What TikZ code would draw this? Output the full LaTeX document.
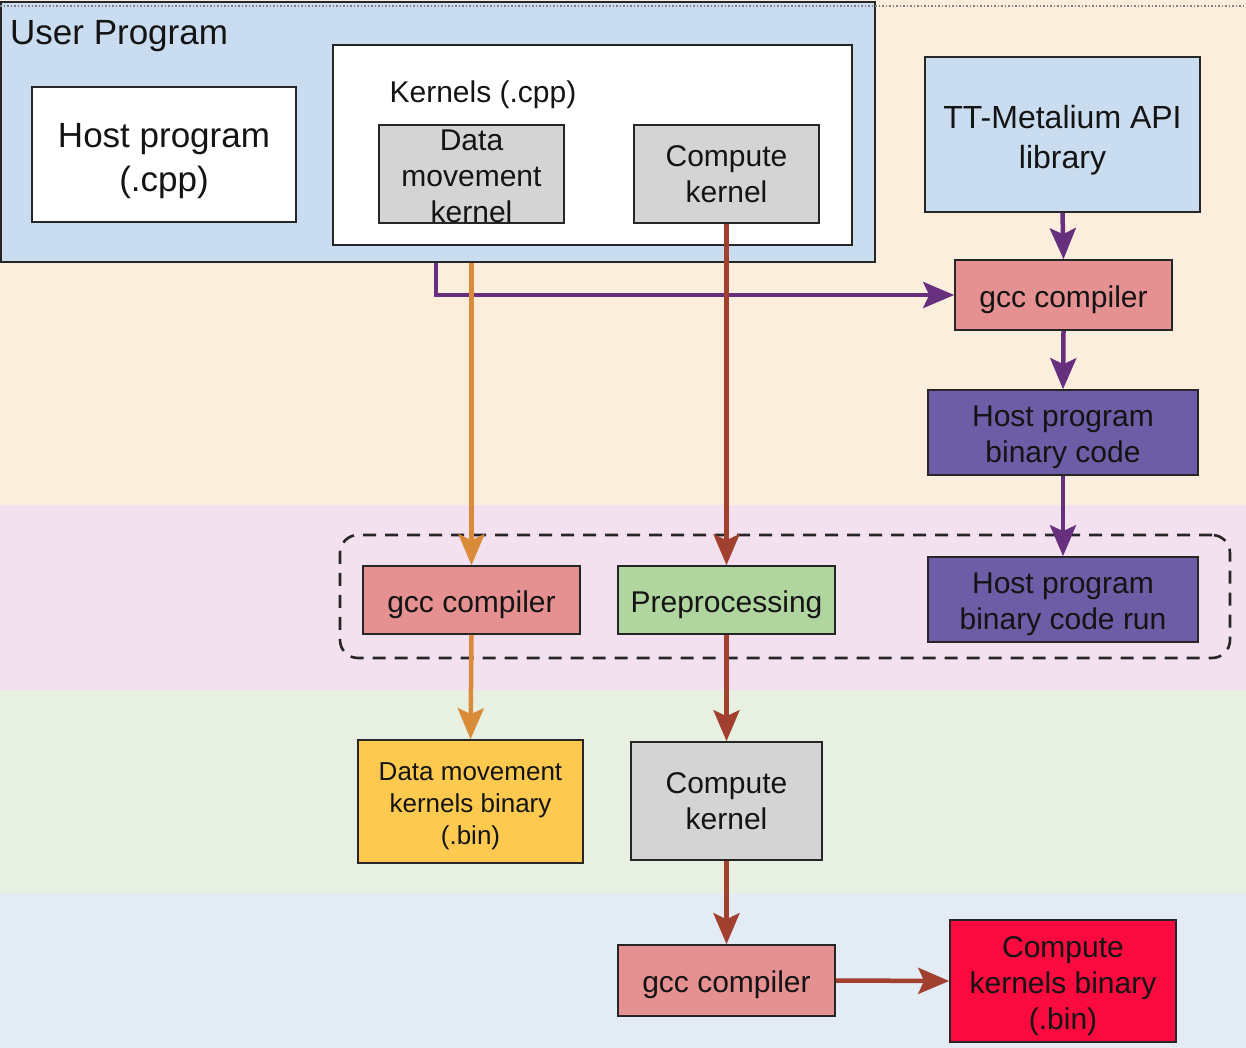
\documentclass[tikz,border=0pt]{standalone}
\usepackage{fontspec}
\setmainfont{Liberation Sans}
\usetikzlibrary{arrows.meta}
\definecolor{bgpeach}{HTML}{FCEEDD}
\definecolor{bgpink}{HTML}{F3E1F0}
\definecolor{bggreen}{HTML}{E8F0E1}
\definecolor{bgblue}{HTML}{E3EBF4}
\definecolor{userblue}{HTML}{C9DCF0}
\definecolor{kgray}{HTML}{D4D4D4}
\definecolor{salmon}{HTML}{E69191}
\definecolor{prefill}{HTML}{B1D59F}
\definecolor{hostpurple}{HTML}{6C5DA6}
\definecolor{dmyellow}{HTML}{FDC94F}
\definecolor{binred}{HTML}{FA0A3E}
\definecolor{arrpurple}{HTML}{67307F}
\definecolor{arrorange}{HTML}{D98B3A}
\definecolor{arrbrown}{HTML}{A1402F}
\newcommand\liftline{\rule{0pt}{1.04em}}
\begin{document}
\begin{tikzpicture}[x=1pt,y=-1pt,
  box/.style={draw=black!85, line width=1.6pt, inner sep=0pt, align=center,
    text=black!92, font=\fontsize{30}{36}\selectfont},
  plainlabel/.style={inner sep=0pt, text=black!92},
  arr/.style={line width=4.5pt, -{Stealth[length=31pt,width=26pt,inset=6pt]}},
  dashbox/.style={draw=black!85, line width=2.6pt, dash pattern=on 13pt off 9pt,
    rounded corners=18pt, inner sep=0pt},
]
\useasboundingbox (0,0) rectangle (1246,1048);
% background bands
\fill[bgpeach] (0,0) rectangle (1246,505);
\fill[bgpink] (0,505) rectangle (1246,690);
\fill[bggreen] (0,690) rectangle (1246,893);
\fill[bgblue] (0,893) rectangle (1246,1048);

% user program
\node[box, fill=userblue, minimum width=874pt, minimum height=260pt] (user) at (438,132) {};
\draw[gray, dotted, line width=1.5pt] (0,6) -- (1246,6);
\node[plainlabel, anchor=west, font=\fontsize{35}{42}\selectfont] (userlbl) at (10,36) {User Program};
\node[box, fill=white, minimum width=264pt, minimum height=135pt, font=\fontsize{35}{44}\selectfont] (host) at (164,154.5) {\liftline Host program\\(.cpp)};
\node[box, fill=white, minimum width=519pt, minimum height=200pt] (kern) at (592.5,145) {};
\node[plainlabel, font=\fontsize{30}{36}\selectfont] (kernlbl) at (483,95) {Kernels (.cpp)};
\node[box, fill=kgray, minimum width=185pt, minimum height=98pt] (dm) at (471.5,174) {\rule{0pt}{26pt}Data\\movement\\kernel};
\node[box, fill=kgray, minimum width=185pt, minimum height=98pt] (ck1) at (726.5,174) {Compute\\kernel};

% right column
\node[box, fill=userblue, minimum width=275pt, minimum height=155pt, font=\fontsize{32}{40}\selectfont] (api) at (1062.5,134.5) {\rule{0pt}{1.1em}TT-Metalium API\\library};
\node[box, fill=salmon, minimum width=217pt, minimum height=70pt] (gcc1) at (1063.5,295) {\liftline gcc compiler};
\node[box, fill=hostpurple, minimum width=270pt, minimum height=85pt] (hb) at (1063,432.5) {\liftline Host program\\binary code};

% dashed group
\node[dashbox, minimum width=890pt, minimum height=123pt] (grp) at (785,596.5) {};
\node[box, fill=salmon, minimum width=217pt, minimum height=68pt] (gcc2) at (471.5,600) {\liftline gcc compiler};
\node[box, fill=prefill, minimum width=217pt, minimum height=68pt] (pre) at (726.5,600) {\liftline Preprocessing};
\node[box, fill=hostpurple, minimum width=270pt, minimum height=85pt] (hr) at (1063,599.5) {\liftline Host program\\binary code run};

% lower
\node[box, fill=dmyellow, minimum width=225pt, minimum height=123pt, font=\fontsize{26}{32}\selectfont] (dmb) at (470.5,801.5) {\liftline Data movement\\kernels binary\\(.bin)};
\node[box, fill=kgray, minimum width=191pt, minimum height=118pt] (ck2) at (726.5,801) {Compute\\kernel};
\node[box, fill=salmon, minimum width=217pt, minimum height=71pt] (gcc3) at (726.5,980.5) {\liftline gcc compiler};
\node[box, fill=binred, minimum width=226pt, minimum height=122pt] (cb) at (1063,981) {\liftline Compute\\kernels binary\\(.bin)};

% connectors
\draw[arr, arrpurple] (436,0 |- user.south) |- (gcc1.west);
\draw[arr, arrpurple] (api.south) -- (gcc1.north);
\draw[arr, arrpurple] (gcc1.south) -- (hb.north);
\draw[arr, arrpurple] (hb.south) -- (hr.north);
\draw[arr, arrorange] (gcc2.north |- user.south) -- (gcc2.north);
\draw[arr, arrorange] (gcc2.south) -- (dmb.north);
\draw[arr, arrbrown] (ck1.south) -- (pre.north);
\draw[arr, arrbrown] (pre.south) -- (ck2.north);
\draw[arr, arrbrown] (ck2.south) -- (gcc3.north);
\draw[arr, arrbrown] (gcc3.east) -- (cb.west);
\end{tikzpicture}
\end{document}
